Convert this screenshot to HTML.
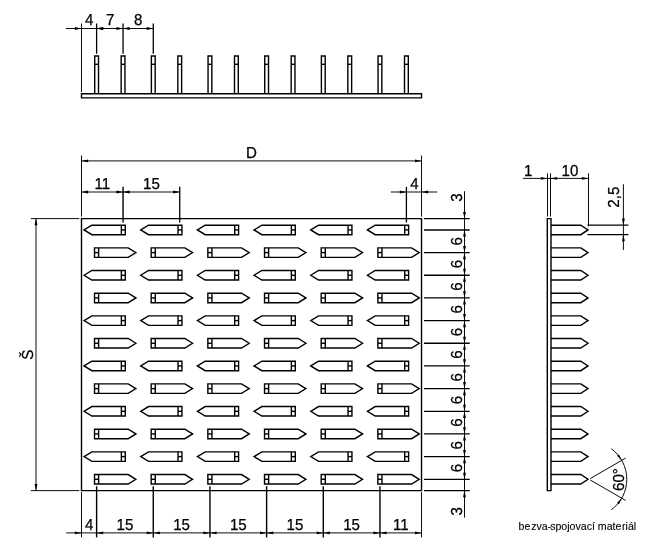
<!DOCTYPE html>
<html lang="cs"><head><meta charset="utf-8"><title>bezva-spojovací materiál</title>
<style>
html,body{margin:0;padding:0;background:#fff;}
svg{display:block;}
svg .d{stroke:#000;stroke-width:0.95;fill:none;}
svg .o{stroke:#000;stroke-width:1.4;fill:none;}
svg{filter:grayscale(1);text-rendering:geometricPrecision;}
svg text{font-family:"Liberation Sans",sans-serif;fill:#000;stroke:#000;stroke-width:0.25;}
</style></head>
<body>
<svg width="648" height="544" viewBox="0 0 648 544">
<rect x="0" y="0" width="648" height="544" fill="#fff" stroke="none"/>
<path class="o" d="M81.50,93.80 L421.52,93.80 L421.52,97.90 L81.50,97.90 Z"/>
<path class="o" d="M94.71,93.80 L94.71,56.02 L98.51,56.02 L98.51,93.80"/>
<line class="o" x1="94.71" y1="64.33" x2="98.51" y2="64.33"/>
<path class="o" d="M121.16,93.80 L121.16,56.02 L124.96,56.02 L124.96,93.80"/>
<line class="o" x1="121.16" y1="64.33" x2="124.96" y2="64.33"/>
<path class="o" d="M151.38,93.80 L151.38,56.02 L155.18,56.02 L155.18,93.80"/>
<line class="o" x1="151.38" y1="64.33" x2="155.18" y2="64.33"/>
<path class="o" d="M177.83,93.80 L177.83,56.02 L181.63,56.02 L181.63,93.80"/>
<line class="o" x1="177.83" y1="64.33" x2="181.63" y2="64.33"/>
<path class="o" d="M208.05,93.80 L208.05,56.02 L211.85,56.02 L211.85,93.80"/>
<line class="o" x1="208.05" y1="64.33" x2="211.85" y2="64.33"/>
<path class="o" d="M234.50,93.80 L234.50,56.02 L238.30,56.02 L238.30,93.80"/>
<line class="o" x1="234.50" y1="64.33" x2="238.30" y2="64.33"/>
<path class="o" d="M264.72,93.80 L264.72,56.02 L268.52,56.02 L268.52,93.80"/>
<line class="o" x1="264.72" y1="64.33" x2="268.52" y2="64.33"/>
<path class="o" d="M291.17,93.80 L291.17,56.02 L294.97,56.02 L294.97,93.80"/>
<line class="o" x1="291.17" y1="64.33" x2="294.97" y2="64.33"/>
<path class="o" d="M321.39,93.80 L321.39,56.02 L325.19,56.02 L325.19,93.80"/>
<line class="o" x1="321.39" y1="64.33" x2="325.19" y2="64.33"/>
<path class="o" d="M347.84,93.80 L347.84,56.02 L351.64,56.02 L351.64,93.80"/>
<line class="o" x1="347.84" y1="64.33" x2="351.64" y2="64.33"/>
<path class="o" d="M378.06,93.80 L378.06,56.02 L381.86,56.02 L381.86,93.80"/>
<line class="o" x1="378.06" y1="64.33" x2="381.86" y2="64.33"/>
<path class="o" d="M404.51,93.80 L404.51,56.02 L408.31,56.02 L408.31,93.80"/>
<line class="o" x1="404.51" y1="64.33" x2="408.31" y2="64.33"/>
<line class="d" x1="65.90" y1="28.50" x2="153.28" y2="28.50"/>
<line class="d" x1="81.50" y1="23.50" x2="81.50" y2="92.10"/>
<line class="d" x1="96.61" y1="23.50" x2="96.61" y2="53.80" style="stroke-width:1.3"/>
<line class="d" x1="123.06" y1="23.50" x2="123.06" y2="53.80" style="stroke-width:1.3"/>
<line class="d" x1="153.28" y1="23.50" x2="153.28" y2="53.80" style="stroke-width:1.3"/>
<path d="M81.50,28.50 L74.90,29.95 L74.90,27.05 Z" fill="#000" stroke="none"/>
<path d="M96.61,28.50 L103.21,27.05 L103.21,29.95 Z" fill="#000" stroke="none"/>
<path d="M123.06,28.50 L116.46,29.95 L116.46,27.05 Z" fill="#000" stroke="none"/>
<path d="M123.06,28.50 L129.66,27.05 L129.66,29.95 Z" fill="#000" stroke="none"/>
<path d="M153.28,28.50 L146.68,29.95 L146.68,27.05 Z" fill="#000" stroke="none"/>
<path d="M96.62,28.50 L103.22,27.05 L103.22,29.95 Z" fill="#000" stroke="none"/>
<text transform="translate(89.26 25.00) scale(0.95 1)" font-size="15.9" text-anchor="middle">4</text>
<text transform="translate(110.14 25.00) scale(0.95 1)" font-size="15.9" text-anchor="middle">7</text>
<text transform="translate(138.17 25.00) scale(0.95 1)" font-size="15.9" text-anchor="middle">8</text>
<path class="o" d="M81.50,218.60 L421.52,218.60 L421.52,490.62 L81.50,490.62 Z"/>
<path class="o" d="M84.06,229.93 L91.86,225.18 L125.26,225.18 L125.26,234.68 L91.86,234.68 Z"/>
<line class="o" x1="121.36" y1="225.18" x2="121.36" y2="234.68"/>
<line class="o" x1="121.36" y1="229.93" x2="125.26" y2="229.93"/>
<path class="o" d="M140.73,229.93 L148.53,225.18 L181.93,225.18 L181.93,234.68 L148.53,234.68 Z"/>
<line class="o" x1="178.03" y1="225.18" x2="178.03" y2="234.68"/>
<line class="o" x1="178.03" y1="229.93" x2="181.93" y2="229.93"/>
<path class="o" d="M197.40,229.93 L205.20,225.18 L238.60,225.18 L238.60,234.68 L205.20,234.68 Z"/>
<line class="o" x1="234.70" y1="225.18" x2="234.70" y2="234.68"/>
<line class="o" x1="234.70" y1="229.93" x2="238.60" y2="229.93"/>
<path class="o" d="M254.07,229.93 L261.87,225.18 L295.27,225.18 L295.27,234.68 L261.87,234.68 Z"/>
<line class="o" x1="291.37" y1="225.18" x2="291.37" y2="234.68"/>
<line class="o" x1="291.37" y1="229.93" x2="295.27" y2="229.93"/>
<path class="o" d="M310.74,229.93 L318.54,225.18 L351.94,225.18 L351.94,234.68 L318.54,234.68 Z"/>
<line class="o" x1="348.04" y1="225.18" x2="348.04" y2="234.68"/>
<line class="o" x1="348.04" y1="229.93" x2="351.94" y2="229.93"/>
<path class="o" d="M367.41,229.93 L375.21,225.18 L408.61,225.18 L408.61,234.68 L375.21,234.68 Z"/>
<line class="o" x1="404.71" y1="225.18" x2="404.71" y2="234.68"/>
<line class="o" x1="404.71" y1="229.93" x2="408.61" y2="229.93"/>
<path class="o" d="M135.91,252.60 L128.21,247.85 L94.51,247.85 L94.51,257.35 L128.21,257.35 Z"/>
<line class="o" x1="98.61" y1="247.85" x2="98.61" y2="257.35"/>
<line class="o" x1="98.61" y1="252.60" x2="94.51" y2="252.60"/>
<path class="o" d="M192.58,252.60 L184.88,247.85 L151.18,247.85 L151.18,257.35 L184.88,257.35 Z"/>
<line class="o" x1="155.28" y1="247.85" x2="155.28" y2="257.35"/>
<line class="o" x1="155.28" y1="252.60" x2="151.18" y2="252.60"/>
<path class="o" d="M249.25,252.60 L241.55,247.85 L207.85,247.85 L207.85,257.35 L241.55,257.35 Z"/>
<line class="o" x1="211.95" y1="247.85" x2="211.95" y2="257.35"/>
<line class="o" x1="211.95" y1="252.60" x2="207.85" y2="252.60"/>
<path class="o" d="M305.92,252.60 L298.22,247.85 L264.52,247.85 L264.52,257.35 L298.22,257.35 Z"/>
<line class="o" x1="268.62" y1="247.85" x2="268.62" y2="257.35"/>
<line class="o" x1="268.62" y1="252.60" x2="264.52" y2="252.60"/>
<path class="o" d="M362.59,252.60 L354.89,247.85 L321.19,247.85 L321.19,257.35 L354.89,257.35 Z"/>
<line class="o" x1="325.29" y1="247.85" x2="325.29" y2="257.35"/>
<line class="o" x1="325.29" y1="252.60" x2="321.19" y2="252.60"/>
<path class="o" d="M419.26,252.60 L411.56,247.85 L377.86,247.85 L377.86,257.35 L411.56,257.35 Z"/>
<line class="o" x1="381.96" y1="247.85" x2="381.96" y2="257.35"/>
<line class="o" x1="381.96" y1="252.60" x2="377.86" y2="252.60"/>
<path class="o" d="M84.06,275.27 L91.86,270.52 L125.26,270.52 L125.26,280.02 L91.86,280.02 Z"/>
<line class="o" x1="121.36" y1="270.52" x2="121.36" y2="280.02"/>
<line class="o" x1="121.36" y1="275.27" x2="125.26" y2="275.27"/>
<path class="o" d="M140.73,275.27 L148.53,270.52 L181.93,270.52 L181.93,280.02 L148.53,280.02 Z"/>
<line class="o" x1="178.03" y1="270.52" x2="178.03" y2="280.02"/>
<line class="o" x1="178.03" y1="275.27" x2="181.93" y2="275.27"/>
<path class="o" d="M197.40,275.27 L205.20,270.52 L238.60,270.52 L238.60,280.02 L205.20,280.02 Z"/>
<line class="o" x1="234.70" y1="270.52" x2="234.70" y2="280.02"/>
<line class="o" x1="234.70" y1="275.27" x2="238.60" y2="275.27"/>
<path class="o" d="M254.07,275.27 L261.87,270.52 L295.27,270.52 L295.27,280.02 L261.87,280.02 Z"/>
<line class="o" x1="291.37" y1="270.52" x2="291.37" y2="280.02"/>
<line class="o" x1="291.37" y1="275.27" x2="295.27" y2="275.27"/>
<path class="o" d="M310.74,275.27 L318.54,270.52 L351.94,270.52 L351.94,280.02 L318.54,280.02 Z"/>
<line class="o" x1="348.04" y1="270.52" x2="348.04" y2="280.02"/>
<line class="o" x1="348.04" y1="275.27" x2="351.94" y2="275.27"/>
<path class="o" d="M367.41,275.27 L375.21,270.52 L408.61,270.52 L408.61,280.02 L375.21,280.02 Z"/>
<line class="o" x1="404.71" y1="270.52" x2="404.71" y2="280.02"/>
<line class="o" x1="404.71" y1="275.27" x2="408.61" y2="275.27"/>
<path class="o" d="M135.91,297.94 L128.21,293.19 L94.51,293.19 L94.51,302.69 L128.21,302.69 Z"/>
<line class="o" x1="98.61" y1="293.19" x2="98.61" y2="302.69"/>
<line class="o" x1="98.61" y1="297.94" x2="94.51" y2="297.94"/>
<path class="o" d="M192.58,297.94 L184.88,293.19 L151.18,293.19 L151.18,302.69 L184.88,302.69 Z"/>
<line class="o" x1="155.28" y1="293.19" x2="155.28" y2="302.69"/>
<line class="o" x1="155.28" y1="297.94" x2="151.18" y2="297.94"/>
<path class="o" d="M249.25,297.94 L241.55,293.19 L207.85,293.19 L207.85,302.69 L241.55,302.69 Z"/>
<line class="o" x1="211.95" y1="293.19" x2="211.95" y2="302.69"/>
<line class="o" x1="211.95" y1="297.94" x2="207.85" y2="297.94"/>
<path class="o" d="M305.92,297.94 L298.22,293.19 L264.52,293.19 L264.52,302.69 L298.22,302.69 Z"/>
<line class="o" x1="268.62" y1="293.19" x2="268.62" y2="302.69"/>
<line class="o" x1="268.62" y1="297.94" x2="264.52" y2="297.94"/>
<path class="o" d="M362.59,297.94 L354.89,293.19 L321.19,293.19 L321.19,302.69 L354.89,302.69 Z"/>
<line class="o" x1="325.29" y1="293.19" x2="325.29" y2="302.69"/>
<line class="o" x1="325.29" y1="297.94" x2="321.19" y2="297.94"/>
<path class="o" d="M419.26,297.94 L411.56,293.19 L377.86,293.19 L377.86,302.69 L411.56,302.69 Z"/>
<line class="o" x1="381.96" y1="293.19" x2="381.96" y2="302.69"/>
<line class="o" x1="381.96" y1="297.94" x2="377.86" y2="297.94"/>
<path class="o" d="M84.06,320.61 L91.86,315.86 L125.26,315.86 L125.26,325.36 L91.86,325.36 Z"/>
<line class="o" x1="121.36" y1="315.86" x2="121.36" y2="325.36"/>
<line class="o" x1="121.36" y1="320.61" x2="125.26" y2="320.61"/>
<path class="o" d="M140.73,320.61 L148.53,315.86 L181.93,315.86 L181.93,325.36 L148.53,325.36 Z"/>
<line class="o" x1="178.03" y1="315.86" x2="178.03" y2="325.36"/>
<line class="o" x1="178.03" y1="320.61" x2="181.93" y2="320.61"/>
<path class="o" d="M197.40,320.61 L205.20,315.86 L238.60,315.86 L238.60,325.36 L205.20,325.36 Z"/>
<line class="o" x1="234.70" y1="315.86" x2="234.70" y2="325.36"/>
<line class="o" x1="234.70" y1="320.61" x2="238.60" y2="320.61"/>
<path class="o" d="M254.07,320.61 L261.87,315.86 L295.27,315.86 L295.27,325.36 L261.87,325.36 Z"/>
<line class="o" x1="291.37" y1="315.86" x2="291.37" y2="325.36"/>
<line class="o" x1="291.37" y1="320.61" x2="295.27" y2="320.61"/>
<path class="o" d="M310.74,320.61 L318.54,315.86 L351.94,315.86 L351.94,325.36 L318.54,325.36 Z"/>
<line class="o" x1="348.04" y1="315.86" x2="348.04" y2="325.36"/>
<line class="o" x1="348.04" y1="320.61" x2="351.94" y2="320.61"/>
<path class="o" d="M367.41,320.61 L375.21,315.86 L408.61,315.86 L408.61,325.36 L375.21,325.36 Z"/>
<line class="o" x1="404.71" y1="315.86" x2="404.71" y2="325.36"/>
<line class="o" x1="404.71" y1="320.61" x2="408.61" y2="320.61"/>
<path class="o" d="M135.91,343.27 L128.21,338.52 L94.51,338.52 L94.51,348.02 L128.21,348.02 Z"/>
<line class="o" x1="98.61" y1="338.52" x2="98.61" y2="348.02"/>
<line class="o" x1="98.61" y1="343.27" x2="94.51" y2="343.27"/>
<path class="o" d="M192.58,343.27 L184.88,338.52 L151.18,338.52 L151.18,348.02 L184.88,348.02 Z"/>
<line class="o" x1="155.28" y1="338.52" x2="155.28" y2="348.02"/>
<line class="o" x1="155.28" y1="343.27" x2="151.18" y2="343.27"/>
<path class="o" d="M249.25,343.27 L241.55,338.52 L207.85,338.52 L207.85,348.02 L241.55,348.02 Z"/>
<line class="o" x1="211.95" y1="338.52" x2="211.95" y2="348.02"/>
<line class="o" x1="211.95" y1="343.27" x2="207.85" y2="343.27"/>
<path class="o" d="M305.92,343.27 L298.22,338.52 L264.52,338.52 L264.52,348.02 L298.22,348.02 Z"/>
<line class="o" x1="268.62" y1="338.52" x2="268.62" y2="348.02"/>
<line class="o" x1="268.62" y1="343.27" x2="264.52" y2="343.27"/>
<path class="o" d="M362.59,343.27 L354.89,338.52 L321.19,338.52 L321.19,348.02 L354.89,348.02 Z"/>
<line class="o" x1="325.29" y1="338.52" x2="325.29" y2="348.02"/>
<line class="o" x1="325.29" y1="343.27" x2="321.19" y2="343.27"/>
<path class="o" d="M419.26,343.27 L411.56,338.52 L377.86,338.52 L377.86,348.02 L411.56,348.02 Z"/>
<line class="o" x1="381.96" y1="338.52" x2="381.96" y2="348.02"/>
<line class="o" x1="381.96" y1="343.27" x2="377.86" y2="343.27"/>
<path class="o" d="M84.06,365.94 L91.86,361.19 L125.26,361.19 L125.26,370.69 L91.86,370.69 Z"/>
<line class="o" x1="121.36" y1="361.19" x2="121.36" y2="370.69"/>
<line class="o" x1="121.36" y1="365.94" x2="125.26" y2="365.94"/>
<path class="o" d="M140.73,365.94 L148.53,361.19 L181.93,361.19 L181.93,370.69 L148.53,370.69 Z"/>
<line class="o" x1="178.03" y1="361.19" x2="178.03" y2="370.69"/>
<line class="o" x1="178.03" y1="365.94" x2="181.93" y2="365.94"/>
<path class="o" d="M197.40,365.94 L205.20,361.19 L238.60,361.19 L238.60,370.69 L205.20,370.69 Z"/>
<line class="o" x1="234.70" y1="361.19" x2="234.70" y2="370.69"/>
<line class="o" x1="234.70" y1="365.94" x2="238.60" y2="365.94"/>
<path class="o" d="M254.07,365.94 L261.87,361.19 L295.27,361.19 L295.27,370.69 L261.87,370.69 Z"/>
<line class="o" x1="291.37" y1="361.19" x2="291.37" y2="370.69"/>
<line class="o" x1="291.37" y1="365.94" x2="295.27" y2="365.94"/>
<path class="o" d="M310.74,365.94 L318.54,361.19 L351.94,361.19 L351.94,370.69 L318.54,370.69 Z"/>
<line class="o" x1="348.04" y1="361.19" x2="348.04" y2="370.69"/>
<line class="o" x1="348.04" y1="365.94" x2="351.94" y2="365.94"/>
<path class="o" d="M367.41,365.94 L375.21,361.19 L408.61,361.19 L408.61,370.69 L375.21,370.69 Z"/>
<line class="o" x1="404.71" y1="361.19" x2="404.71" y2="370.69"/>
<line class="o" x1="404.71" y1="365.94" x2="408.61" y2="365.94"/>
<path class="o" d="M135.91,388.61 L128.21,383.86 L94.51,383.86 L94.51,393.36 L128.21,393.36 Z"/>
<line class="o" x1="98.61" y1="383.86" x2="98.61" y2="393.36"/>
<line class="o" x1="98.61" y1="388.61" x2="94.51" y2="388.61"/>
<path class="o" d="M192.58,388.61 L184.88,383.86 L151.18,383.86 L151.18,393.36 L184.88,393.36 Z"/>
<line class="o" x1="155.28" y1="383.86" x2="155.28" y2="393.36"/>
<line class="o" x1="155.28" y1="388.61" x2="151.18" y2="388.61"/>
<path class="o" d="M249.25,388.61 L241.55,383.86 L207.85,383.86 L207.85,393.36 L241.55,393.36 Z"/>
<line class="o" x1="211.95" y1="383.86" x2="211.95" y2="393.36"/>
<line class="o" x1="211.95" y1="388.61" x2="207.85" y2="388.61"/>
<path class="o" d="M305.92,388.61 L298.22,383.86 L264.52,383.86 L264.52,393.36 L298.22,393.36 Z"/>
<line class="o" x1="268.62" y1="383.86" x2="268.62" y2="393.36"/>
<line class="o" x1="268.62" y1="388.61" x2="264.52" y2="388.61"/>
<path class="o" d="M362.59,388.61 L354.89,383.86 L321.19,383.86 L321.19,393.36 L354.89,393.36 Z"/>
<line class="o" x1="325.29" y1="383.86" x2="325.29" y2="393.36"/>
<line class="o" x1="325.29" y1="388.61" x2="321.19" y2="388.61"/>
<path class="o" d="M419.26,388.61 L411.56,383.86 L377.86,383.86 L377.86,393.36 L411.56,393.36 Z"/>
<line class="o" x1="381.96" y1="383.86" x2="381.96" y2="393.36"/>
<line class="o" x1="381.96" y1="388.61" x2="377.86" y2="388.61"/>
<path class="o" d="M84.06,411.28 L91.86,406.53 L125.26,406.53 L125.26,416.03 L91.86,416.03 Z"/>
<line class="o" x1="121.36" y1="406.53" x2="121.36" y2="416.03"/>
<line class="o" x1="121.36" y1="411.28" x2="125.26" y2="411.28"/>
<path class="o" d="M140.73,411.28 L148.53,406.53 L181.93,406.53 L181.93,416.03 L148.53,416.03 Z"/>
<line class="o" x1="178.03" y1="406.53" x2="178.03" y2="416.03"/>
<line class="o" x1="178.03" y1="411.28" x2="181.93" y2="411.28"/>
<path class="o" d="M197.40,411.28 L205.20,406.53 L238.60,406.53 L238.60,416.03 L205.20,416.03 Z"/>
<line class="o" x1="234.70" y1="406.53" x2="234.70" y2="416.03"/>
<line class="o" x1="234.70" y1="411.28" x2="238.60" y2="411.28"/>
<path class="o" d="M254.07,411.28 L261.87,406.53 L295.27,406.53 L295.27,416.03 L261.87,416.03 Z"/>
<line class="o" x1="291.37" y1="406.53" x2="291.37" y2="416.03"/>
<line class="o" x1="291.37" y1="411.28" x2="295.27" y2="411.28"/>
<path class="o" d="M310.74,411.28 L318.54,406.53 L351.94,406.53 L351.94,416.03 L318.54,416.03 Z"/>
<line class="o" x1="348.04" y1="406.53" x2="348.04" y2="416.03"/>
<line class="o" x1="348.04" y1="411.28" x2="351.94" y2="411.28"/>
<path class="o" d="M367.41,411.28 L375.21,406.53 L408.61,406.53 L408.61,416.03 L375.21,416.03 Z"/>
<line class="o" x1="404.71" y1="406.53" x2="404.71" y2="416.03"/>
<line class="o" x1="404.71" y1="411.28" x2="408.61" y2="411.28"/>
<path class="o" d="M135.91,433.95 L128.21,429.20 L94.51,429.20 L94.51,438.70 L128.21,438.70 Z"/>
<line class="o" x1="98.61" y1="429.20" x2="98.61" y2="438.70"/>
<line class="o" x1="98.61" y1="433.95" x2="94.51" y2="433.95"/>
<path class="o" d="M192.58,433.95 L184.88,429.20 L151.18,429.20 L151.18,438.70 L184.88,438.70 Z"/>
<line class="o" x1="155.28" y1="429.20" x2="155.28" y2="438.70"/>
<line class="o" x1="155.28" y1="433.95" x2="151.18" y2="433.95"/>
<path class="o" d="M249.25,433.95 L241.55,429.20 L207.85,429.20 L207.85,438.70 L241.55,438.70 Z"/>
<line class="o" x1="211.95" y1="429.20" x2="211.95" y2="438.70"/>
<line class="o" x1="211.95" y1="433.95" x2="207.85" y2="433.95"/>
<path class="o" d="M305.92,433.95 L298.22,429.20 L264.52,429.20 L264.52,438.70 L298.22,438.70 Z"/>
<line class="o" x1="268.62" y1="429.20" x2="268.62" y2="438.70"/>
<line class="o" x1="268.62" y1="433.95" x2="264.52" y2="433.95"/>
<path class="o" d="M362.59,433.95 L354.89,429.20 L321.19,429.20 L321.19,438.70 L354.89,438.70 Z"/>
<line class="o" x1="325.29" y1="429.20" x2="325.29" y2="438.70"/>
<line class="o" x1="325.29" y1="433.95" x2="321.19" y2="433.95"/>
<path class="o" d="M419.26,433.95 L411.56,429.20 L377.86,429.20 L377.86,438.70 L411.56,438.70 Z"/>
<line class="o" x1="381.96" y1="429.20" x2="381.96" y2="438.70"/>
<line class="o" x1="381.96" y1="433.95" x2="377.86" y2="433.95"/>
<path class="o" d="M84.06,456.61 L91.86,451.86 L125.26,451.86 L125.26,461.36 L91.86,461.36 Z"/>
<line class="o" x1="121.36" y1="451.86" x2="121.36" y2="461.36"/>
<line class="o" x1="121.36" y1="456.61" x2="125.26" y2="456.61"/>
<path class="o" d="M140.73,456.61 L148.53,451.86 L181.93,451.86 L181.93,461.36 L148.53,461.36 Z"/>
<line class="o" x1="178.03" y1="451.86" x2="178.03" y2="461.36"/>
<line class="o" x1="178.03" y1="456.61" x2="181.93" y2="456.61"/>
<path class="o" d="M197.40,456.61 L205.20,451.86 L238.60,451.86 L238.60,461.36 L205.20,461.36 Z"/>
<line class="o" x1="234.70" y1="451.86" x2="234.70" y2="461.36"/>
<line class="o" x1="234.70" y1="456.61" x2="238.60" y2="456.61"/>
<path class="o" d="M254.07,456.61 L261.87,451.86 L295.27,451.86 L295.27,461.36 L261.87,461.36 Z"/>
<line class="o" x1="291.37" y1="451.86" x2="291.37" y2="461.36"/>
<line class="o" x1="291.37" y1="456.61" x2="295.27" y2="456.61"/>
<path class="o" d="M310.74,456.61 L318.54,451.86 L351.94,451.86 L351.94,461.36 L318.54,461.36 Z"/>
<line class="o" x1="348.04" y1="451.86" x2="348.04" y2="461.36"/>
<line class="o" x1="348.04" y1="456.61" x2="351.94" y2="456.61"/>
<path class="o" d="M367.41,456.61 L375.21,451.86 L408.61,451.86 L408.61,461.36 L375.21,461.36 Z"/>
<line class="o" x1="404.71" y1="451.86" x2="404.71" y2="461.36"/>
<line class="o" x1="404.71" y1="456.61" x2="408.61" y2="456.61"/>
<path class="o" d="M135.91,479.28 L128.21,474.53 L94.51,474.53 L94.51,484.03 L128.21,484.03 Z"/>
<line class="o" x1="98.61" y1="474.53" x2="98.61" y2="484.03"/>
<line class="o" x1="98.61" y1="479.28" x2="94.51" y2="479.28"/>
<path class="o" d="M192.58,479.28 L184.88,474.53 L151.18,474.53 L151.18,484.03 L184.88,484.03 Z"/>
<line class="o" x1="155.28" y1="474.53" x2="155.28" y2="484.03"/>
<line class="o" x1="155.28" y1="479.28" x2="151.18" y2="479.28"/>
<path class="o" d="M249.25,479.28 L241.55,474.53 L207.85,474.53 L207.85,484.03 L241.55,484.03 Z"/>
<line class="o" x1="211.95" y1="474.53" x2="211.95" y2="484.03"/>
<line class="o" x1="211.95" y1="479.28" x2="207.85" y2="479.28"/>
<path class="o" d="M305.92,479.28 L298.22,474.53 L264.52,474.53 L264.52,484.03 L298.22,484.03 Z"/>
<line class="o" x1="268.62" y1="474.53" x2="268.62" y2="484.03"/>
<line class="o" x1="268.62" y1="479.28" x2="264.52" y2="479.28"/>
<path class="o" d="M362.59,479.28 L354.89,474.53 L321.19,474.53 L321.19,484.03 L354.89,484.03 Z"/>
<line class="o" x1="325.29" y1="474.53" x2="325.29" y2="484.03"/>
<line class="o" x1="325.29" y1="479.28" x2="321.19" y2="479.28"/>
<path class="o" d="M419.26,479.28 L411.56,474.53 L377.86,474.53 L377.86,484.03 L411.56,484.03 Z"/>
<line class="o" x1="381.96" y1="474.53" x2="381.96" y2="484.03"/>
<line class="o" x1="381.96" y1="479.28" x2="377.86" y2="479.28"/>
<line class="d" x1="81.50" y1="155.50" x2="81.50" y2="216.60"/>
<line class="d" x1="421.52" y1="155.50" x2="421.52" y2="216.60"/>
<line class="d" x1="421.52" y1="492.12" x2="421.52" y2="537.40"/>
<line class="d" x1="81.50" y1="160.90" x2="421.52" y2="160.90"/>
<path d="M81.50,160.90 L88.10,159.45 L88.10,162.35 Z" fill="#000" stroke="none"/>
<path d="M421.52,160.90 L414.92,162.35 L414.92,159.45 Z" fill="#000" stroke="none"/>
<text transform="translate(251.51 158.00) scale(0.95 1)" font-size="15.9" text-anchor="middle">D</text>
<line class="d" x1="81.50" y1="192.00" x2="179.73" y2="192.00"/>
<line class="d" x1="123.06" y1="186.80" x2="123.06" y2="222.50" style="stroke-width:1.4"/>
<line class="d" x1="179.73" y1="186.80" x2="179.73" y2="222.50" style="stroke-width:1.3"/>
<path d="M81.50,192.00 L88.10,190.55 L88.10,193.45 Z" fill="#000" stroke="none"/>
<path d="M123.06,192.00 L116.46,193.45 L116.46,190.55 Z" fill="#000" stroke="none"/>
<path d="M123.06,192.00 L129.66,190.55 L129.66,193.45 Z" fill="#000" stroke="none"/>
<path d="M179.73,192.00 L173.13,193.45 L173.13,190.55 Z" fill="#000" stroke="none"/>
<text transform="translate(102.28 189.30) scale(0.95 1)" font-size="15.9" text-anchor="middle">11</text>
<text transform="translate(151.39 189.30) scale(0.95 1)" font-size="15.9" text-anchor="middle">15</text>
<line class="d" x1="390.90" y1="192.00" x2="437.20" y2="192.00"/>
<line class="d" x1="406.41" y1="186.80" x2="406.41" y2="222.50" style="stroke-width:1.3"/>
<path d="M406.41,192.00 L399.81,193.45 L399.81,190.55 Z" fill="#000" stroke="none"/>
<path d="M421.52,192.00 L428.12,190.55 L428.12,193.45 Z" fill="#000" stroke="none"/>
<text transform="translate(414.56 189.30) scale(0.95 1)" font-size="15.9" text-anchor="middle">4</text>
<line class="d" x1="30.80" y1="218.60" x2="79.30" y2="218.60"/>
<line class="d" x1="30.80" y1="490.62" x2="79.30" y2="490.62"/>
<line class="d" x1="36.00" y1="218.60" x2="36.00" y2="490.62"/>
<path d="M36.00,218.60 L37.45,225.20 L34.55,225.20 Z" fill="#000" stroke="none"/>
<path d="M36.00,490.62 L34.55,484.02 L37.45,484.02 Z" fill="#000" stroke="none"/>
<text transform="translate(33.40 354.61) rotate(-90) scale(0.95 1)" font-size="15.9" text-anchor="middle">Š</text>
<line class="d" x1="66.20" y1="532.90" x2="421.52" y2="532.90"/>
<line class="d" x1="81.50" y1="492.12" x2="81.50" y2="537.40"/>
<line class="d" x1="96.61" y1="486.20" x2="96.61" y2="537.40" style="stroke-width:1.4"/>
<line class="d" x1="153.28" y1="486.20" x2="153.28" y2="537.40" style="stroke-width:1.4"/>
<line class="d" x1="209.95" y1="486.20" x2="209.95" y2="537.40" style="stroke-width:1.4"/>
<line class="d" x1="266.62" y1="486.20" x2="266.62" y2="537.40" style="stroke-width:1.4"/>
<line class="d" x1="323.29" y1="486.20" x2="323.29" y2="537.40" style="stroke-width:1.4"/>
<line class="d" x1="379.96" y1="486.20" x2="379.96" y2="537.40" style="stroke-width:1.4"/>
<path d="M81.50,532.90 L74.90,534.35 L74.90,531.45 Z" fill="#000" stroke="none"/>
<path d="M96.61,532.90 L103.21,531.45 L103.21,534.35 Z" fill="#000" stroke="none"/>
<path d="M153.28,532.90 L146.68,534.35 L146.68,531.45 Z" fill="#000" stroke="none"/>
<text transform="translate(124.95 530.40) scale(0.95 1)" font-size="15.9" text-anchor="middle">15</text>
<path d="M153.28,532.90 L159.88,531.45 L159.88,534.35 Z" fill="#000" stroke="none"/>
<path d="M209.95,532.90 L203.35,534.35 L203.35,531.45 Z" fill="#000" stroke="none"/>
<text transform="translate(181.62 530.40) scale(0.95 1)" font-size="15.9" text-anchor="middle">15</text>
<path d="M209.95,532.90 L216.55,531.45 L216.55,534.35 Z" fill="#000" stroke="none"/>
<path d="M266.62,532.90 L260.02,534.35 L260.02,531.45 Z" fill="#000" stroke="none"/>
<text transform="translate(238.29 530.40) scale(0.95 1)" font-size="15.9" text-anchor="middle">15</text>
<path d="M266.62,532.90 L273.22,531.45 L273.22,534.35 Z" fill="#000" stroke="none"/>
<path d="M323.29,532.90 L316.69,534.35 L316.69,531.45 Z" fill="#000" stroke="none"/>
<text transform="translate(294.96 530.40) scale(0.95 1)" font-size="15.9" text-anchor="middle">15</text>
<path d="M323.29,532.90 L329.89,531.45 L329.89,534.35 Z" fill="#000" stroke="none"/>
<path d="M379.96,532.90 L373.36,534.35 L373.36,531.45 Z" fill="#000" stroke="none"/>
<text transform="translate(351.63 530.40) scale(0.95 1)" font-size="15.9" text-anchor="middle">15</text>
<path d="M379.96,532.90 L386.56,531.45 L386.56,534.35 Z" fill="#000" stroke="none"/>
<path d="M421.52,532.90 L414.92,534.35 L414.92,531.45 Z" fill="#000" stroke="none"/>
<text transform="translate(400.74 530.40) scale(0.95 1)" font-size="15.9" text-anchor="middle">11</text>
<text transform="translate(89.26 530.40) scale(0.95 1)" font-size="15.9" text-anchor="middle">4</text>
<line class="d" x1="464.50" y1="191.20" x2="464.50" y2="517.60"/>
<line class="d" x1="424.00" y1="218.60" x2="469.70" y2="218.60" style="stroke-width:1.3"/>
<line class="d" x1="424.00" y1="230.00" x2="469.70" y2="230.00" style="stroke-width:1.7"/>
<line class="d" x1="424.00" y1="252.60" x2="469.70" y2="252.60" style="stroke-width:1.3"/>
<line class="d" x1="424.00" y1="275.27" x2="469.70" y2="275.27" style="stroke-width:1.3"/>
<line class="d" x1="424.00" y1="297.94" x2="469.70" y2="297.94" style="stroke-width:1.3"/>
<line class="d" x1="424.00" y1="320.61" x2="469.70" y2="320.61" style="stroke-width:1.3"/>
<line class="d" x1="424.00" y1="343.27" x2="469.70" y2="343.27" style="stroke-width:1.3"/>
<line class="d" x1="424.00" y1="365.94" x2="469.70" y2="365.94" style="stroke-width:1.3"/>
<line class="d" x1="424.00" y1="388.61" x2="469.70" y2="388.61" style="stroke-width:1.3"/>
<line class="d" x1="424.00" y1="411.28" x2="469.70" y2="411.28" style="stroke-width:1.3"/>
<line class="d" x1="424.00" y1="433.95" x2="469.70" y2="433.95" style="stroke-width:1.3"/>
<line class="d" x1="424.00" y1="456.61" x2="469.70" y2="456.61" style="stroke-width:1.3"/>
<line class="d" x1="424.00" y1="479.28" x2="469.70" y2="479.28" style="stroke-width:1.3"/>
<line class="d" x1="424.00" y1="490.62" x2="469.70" y2="490.62" style="stroke-width:1.3"/>
<path d="M464.50,218.60 L463.05,212.00 L465.95,212.00 Z" fill="#000" stroke="none"/>
<path d="M464.50,490.62 L465.95,497.22 L463.05,497.22 Z" fill="#000" stroke="none"/>
<path d="M464.50,229.93 L465.95,236.53 L463.05,236.53 Z" fill="#000" stroke="none"/>
<path d="M464.50,252.60 L465.95,259.20 L463.05,259.20 Z" fill="#000" stroke="none"/>
<path d="M464.50,252.60 L463.05,246.00 L465.95,246.00 Z" fill="#000" stroke="none"/>
<path d="M464.50,275.27 L465.95,281.87 L463.05,281.87 Z" fill="#000" stroke="none"/>
<path d="M464.50,275.27 L463.05,268.67 L465.95,268.67 Z" fill="#000" stroke="none"/>
<path d="M464.50,297.94 L465.95,304.54 L463.05,304.54 Z" fill="#000" stroke="none"/>
<path d="M464.50,297.94 L463.05,291.34 L465.95,291.34 Z" fill="#000" stroke="none"/>
<path d="M464.50,320.61 L465.95,327.21 L463.05,327.21 Z" fill="#000" stroke="none"/>
<path d="M464.50,320.61 L463.05,314.01 L465.95,314.01 Z" fill="#000" stroke="none"/>
<path d="M464.50,343.27 L465.95,349.87 L463.05,349.87 Z" fill="#000" stroke="none"/>
<path d="M464.50,343.27 L463.05,336.67 L465.95,336.67 Z" fill="#000" stroke="none"/>
<path d="M464.50,365.94 L465.95,372.54 L463.05,372.54 Z" fill="#000" stroke="none"/>
<path d="M464.50,365.94 L463.05,359.34 L465.95,359.34 Z" fill="#000" stroke="none"/>
<path d="M464.50,388.61 L465.95,395.21 L463.05,395.21 Z" fill="#000" stroke="none"/>
<path d="M464.50,388.61 L463.05,382.01 L465.95,382.01 Z" fill="#000" stroke="none"/>
<path d="M464.50,411.28 L465.95,417.88 L463.05,417.88 Z" fill="#000" stroke="none"/>
<path d="M464.50,411.28 L463.05,404.68 L465.95,404.68 Z" fill="#000" stroke="none"/>
<path d="M464.50,433.95 L465.95,440.55 L463.05,440.55 Z" fill="#000" stroke="none"/>
<path d="M464.50,433.95 L463.05,427.35 L465.95,427.35 Z" fill="#000" stroke="none"/>
<path d="M464.50,456.61 L465.95,463.21 L463.05,463.21 Z" fill="#000" stroke="none"/>
<path d="M464.50,456.61 L463.05,450.01 L465.95,450.01 Z" fill="#000" stroke="none"/>
<path d="M464.50,479.28 L463.05,472.68 L465.95,472.68 Z" fill="#000" stroke="none"/>
<text transform="translate(462.20 241.27) rotate(-90) scale(0.95 1)" font-size="15.9" text-anchor="middle">6</text>
<text transform="translate(462.20 263.94) rotate(-90) scale(0.95 1)" font-size="15.9" text-anchor="middle">6</text>
<text transform="translate(462.20 286.60) rotate(-90) scale(0.95 1)" font-size="15.9" text-anchor="middle">6</text>
<text transform="translate(462.20 309.27) rotate(-90) scale(0.95 1)" font-size="15.9" text-anchor="middle">6</text>
<text transform="translate(462.20 331.94) rotate(-90) scale(0.95 1)" font-size="15.9" text-anchor="middle">6</text>
<text transform="translate(462.20 354.61) rotate(-90) scale(0.95 1)" font-size="15.9" text-anchor="middle">6</text>
<text transform="translate(462.20 377.28) rotate(-90) scale(0.95 1)" font-size="15.9" text-anchor="middle">6</text>
<text transform="translate(462.20 399.94) rotate(-90) scale(0.95 1)" font-size="15.9" text-anchor="middle">6</text>
<text transform="translate(462.20 422.61) rotate(-90) scale(0.95 1)" font-size="15.9" text-anchor="middle">6</text>
<text transform="translate(462.20 445.28) rotate(-90) scale(0.95 1)" font-size="15.9" text-anchor="middle">6</text>
<text transform="translate(462.20 467.95) rotate(-90) scale(0.95 1)" font-size="15.9" text-anchor="middle">6</text>
<text transform="translate(462.20 197.50) rotate(-90) scale(0.95 1)" font-size="15.9" text-anchor="middle">3</text>
<text transform="translate(462.20 511.30) rotate(-90) scale(0.95 1)" font-size="15.9" text-anchor="middle">3</text>
<path class="o" d="M547.30,218.60 L551.00,218.60 L551.00,490.62 L547.30,490.62 Z"/>
<path class="o" d="M551.00,225.18 L580.82,225.18 L588.00,229.93 L580.82,234.68 L551.00,234.68"/>
<path class="o" d="M551.00,247.85 L580.82,247.85 L588.00,252.60 L580.82,257.35 L551.00,257.35"/>
<path class="o" d="M551.00,270.52 L580.82,270.52 L588.00,275.27 L580.82,280.02 L551.00,280.02"/>
<path class="o" d="M551.00,293.19 L580.82,293.19 L588.00,297.94 L580.82,302.69 L551.00,302.69"/>
<path class="o" d="M551.00,315.86 L580.82,315.86 L588.00,320.61 L580.82,325.36 L551.00,325.36"/>
<path class="o" d="M551.00,338.52 L580.82,338.52 L588.00,343.27 L580.82,348.02 L551.00,348.02"/>
<path class="o" d="M551.00,361.19 L580.82,361.19 L588.00,365.94 L580.82,370.69 L551.00,370.69"/>
<path class="o" d="M551.00,383.86 L580.82,383.86 L588.00,388.61 L580.82,393.36 L551.00,393.36"/>
<path class="o" d="M551.00,406.53 L580.82,406.53 L588.00,411.28 L580.82,416.03 L551.00,416.03"/>
<path class="o" d="M551.00,429.20 L580.82,429.20 L588.00,433.95 L580.82,438.70 L551.00,438.70"/>
<path class="o" d="M551.00,451.86 L580.82,451.86 L588.00,456.61 L580.82,461.36 L551.00,461.36"/>
<path class="o" d="M551.00,474.53 L580.82,474.53 L588.00,479.28 L580.82,484.03 L551.00,484.03"/>
<line class="d" x1="522.80" y1="178.40" x2="588.50" y2="178.40"/>
<line class="d" x1="547.50" y1="173.30" x2="547.50" y2="216.50"/>
<line class="d" x1="550.50" y1="173.30" x2="550.50" y2="216.50"/>
<line class="d" x1="588.50" y1="173.30" x2="588.50" y2="226.50"/>
<path d="M547.50,178.40 L540.90,179.85 L540.90,176.95 Z" fill="#000" stroke="none"/>
<path d="M550.50,178.40 L557.10,176.95 L557.10,179.85 Z" fill="#000" stroke="none"/>
<path d="M588.50,178.40 L581.90,179.85 L581.90,176.95 Z" fill="#000" stroke="none"/>
<text transform="translate(528.20 175.60) scale(0.95 1)" font-size="15.9" text-anchor="middle">1</text>
<text transform="translate(570.00 175.60) scale(0.95 1)" font-size="15.9" text-anchor="middle">10</text>
<line class="d" x1="587.50" y1="225.18" x2="628.40" y2="225.18" style="stroke-width:1.2"/>
<line class="d" x1="587.50" y1="234.68" x2="628.40" y2="234.68" style="stroke-width:1.2"/>
<line class="d" x1="623.40" y1="184.20" x2="623.40" y2="250.00"/>
<path d="M623.40,225.18 L621.95,218.58 L624.85,218.58 Z" fill="#000" stroke="none"/>
<path d="M623.40,234.68 L624.85,241.28 L621.95,241.28 Z" fill="#000" stroke="none"/>
<text transform="translate(618.60 197.20) rotate(-90) scale(0.95 1)" font-size="15.9" text-anchor="middle">2,5</text>
<line class="d" x1="590.30" y1="478.53" x2="625.63" y2="458.13"/>
<line class="d" x1="590.30" y1="480.03" x2="625.63" y2="500.43"/>
<path class="d" d="M611.22,448.70 A37.8,37.8 0 0 1 611.22,509.86"/>
<path d="M621.74,460.38 L617.07,455.72 L618.95,454.40 Z" fill="#000" stroke="none"/>
<path d="M621.74,498.18 L618.95,504.17 L617.07,502.85 Z" fill="#000" stroke="none"/>
<text transform="translate(624.20 479.58) rotate(-90) scale(0.95 1)" font-size="15.9" text-anchor="middle">60°</text>
<text x="518.5" y="530" font-size="10.6" style="stroke-width:0.1;text-rendering:auto">be<tspan dx="0.9">zva</tspan><tspan dx="-0.2">-</tspan><tspan dx="-0.9">spojovací mate</tspan><tspan dx="0.7">riál</tspan></text>
</svg>
</body></html>
